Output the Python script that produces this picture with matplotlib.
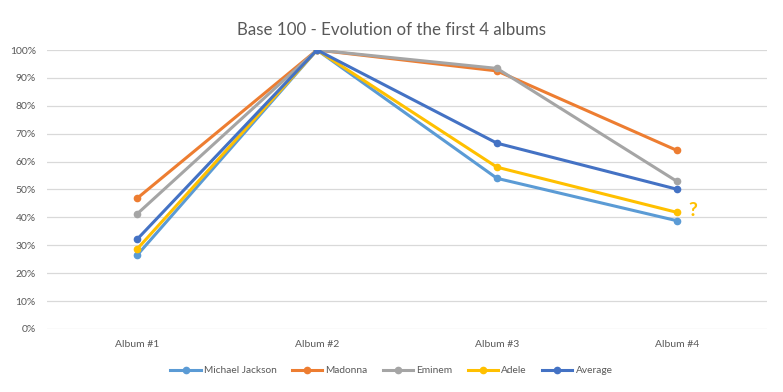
import matplotlib.pyplot as plt
from matplotlib.ticker import PercentFormatter, MultipleLocator

# datos (base 100)
albums = ['Album #1', 'Album #2', 'Album #3', 'Album #4']
michael_jackson = [0.264, 1.0, 0.540, 0.388]
madonna = [0.468, 1.0, 0.925, 0.640]
eminem = [0.412, 1.0, 0.934, 0.529]
adele = [0.286, 1.0, 0.580, 0.418]
average = [0.321, 1.0, 0.666, 0.501]

series = [
    ('Michael Jackson', michael_jackson, '#5B9BD5'),
    ('Madonna', madonna, '#ED7D31'),
    ('Eminem', eminem, '#A5A5A5'),
    ('Adele', adele, '#FFC000'),
    ('Average', average, '#4472C4'),
]

plt.rcParams['font.family'] = ['Lato', 'DejaVu Sans']

fig = plt.figure(figsize=(7.83, 3.92), dpi=100)
ax = fig.add_axes([47/783, 63/392, 720/783, 279/392])

x = list(range(len(albums)))
for nombre, valores, color in series:
    ax.plot(x, valores, color=color, lw=2.2, marker='o', ms=4.5, label=nombre)

# interrogacion junto al ultimo punto de Adele
ax.annotate('?', (x[3], adele[3]), xytext=(8, 1), textcoords='offset points',
            color='#FFC000', fontsize=14, fontweight='bold', va='center', ha='left')

ax.set_xlim(-0.5, 3.5)
ax.set_ylim(0, 1.0)
ax.set_xticks(x)
ax.set_xticklabels(albums)
ax.yaxis.set_major_locator(MultipleLocator(0.1))
ax.yaxis.set_major_formatter(PercentFormatter(1.0, decimals=0))
ax.grid(axis='y', color='#D9D9D9', lw=0.9)
ax.set_axisbelow(True)
for s in ax.spines.values():
    s.set_visible(False)
ax.tick_params(length=0, labelsize=7.5, colors='#595959', pad=8)
ax.tick_params(axis='x', pad=8)

fig.suptitle('Base 100 - Evolution of the first 4 albums', y=0.945,
             fontsize=12.2, color='#595959')
fig.legend(loc='center', bbox_to_anchor=(0.5, 0.054), ncol=5, frameon=False,
           fontsize=7.3, labelcolor='#595959', handlelength=3, columnspacing=1.5,
           handletextpad=0.3)

fig.savefig('out.png', dpi=100)
